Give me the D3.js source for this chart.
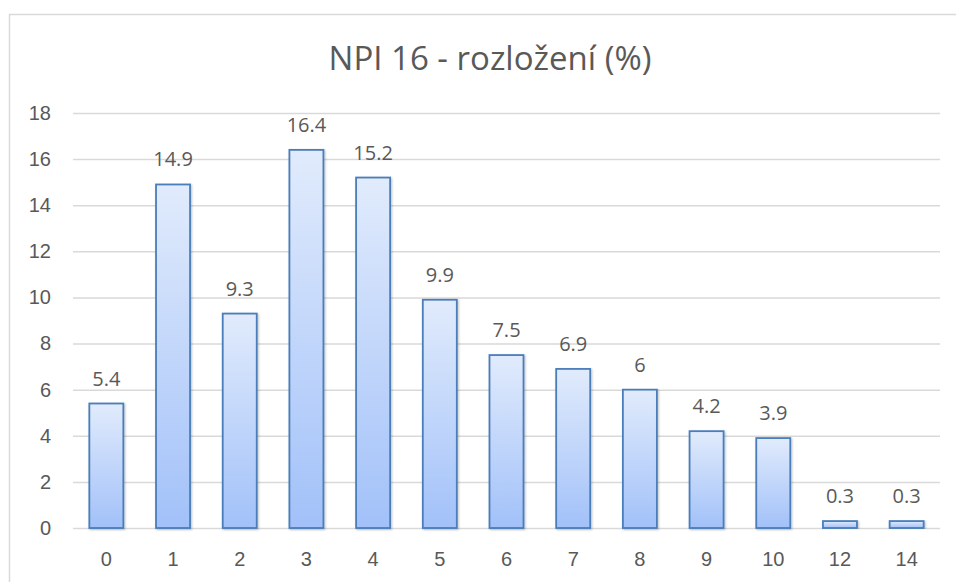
<!DOCTYPE html>
<html>
<head>
<meta charset="utf-8">
<script src="https://cdn.jsdelivr.net/npm/d3@7"></script>
<style>
  body { margin: 0; background: #fff; }
  svg { display: block; font-family: "Open Sans", sans-serif; }
</style>
</head>
<body>
<svg id="chart"></svg>
<script>
// Data
const categories = ["0", "1", "2", "3", "4", "5", "6", "7", "8", "9", "10", "12", "14"]
const values = [5.4, 14.9, 9.3, 16.4, 15.2, 9.9, 7.5, 6.9, 6, 4.2, 3.9, 0.3, 0.3]
const yTicks = [0, 2, 4, 6, 8, 10, 12, 14, 16, 18]
const title = "NPI 16 - rozložení (%)"

const width = 956, height = 582
const margin = {top: 113, right: 16, bottom: 54, left: 73}
const textColor = "#595959"
const labelSize = "20px"

const svg = d3.select("#chart")
  .attr("width", width)
  .attr("height", height)

// outer chart frame (runs off right & bottom edge)
svg.append("rect")
  .attr("x", 9.5).attr("y", 14.5)
  .attr("width", 960).attr("height", 600)
  .attr("fill", "#fff")
  .attr("stroke", "#d9d9d9")
  .attr("stroke-width", 1.5)

const defs = svg.append("defs")
const grad = defs.append("linearGradient")
  .attr("id", "barGrad")
  .attr("x1", 0).attr("y1", 0).attr("x2", 0).attr("y2", 1)
grad.append("stop").attr("offset", "0%").attr("stop-color", "#e1ebfc")
grad.append("stop").attr("offset", "100%").attr("stop-color", "#a2c1f9")

const shadow = defs.append("filter").attr("id", "shadow")
  .attr("x", "-20%").attr("y", "-5%").attr("width", "150%").attr("height", "115%")
shadow.append("feDropShadow")
  .attr("dx", 1).attr("dy", 1).attr("stdDeviation", 1.2)
  .attr("flood-color", "#000").attr("flood-opacity", 0.25)

const x = d3.scaleBand()
  .domain(categories)
  .range([margin.left, width - margin.right])
  .paddingInner(0.49)
  .paddingOuter(0.245)

const y = d3.scaleLinear()
  .domain([0, 18])
  .range([height - margin.bottom, margin.top])

// title
svg.append("text")
  .attr("x", 490)
  .attr("y", 70)
  .attr("text-anchor", "middle")
  .attr("fill", textColor)
  .style("font-size", "33px")
  .text(title)

// gridlines + y labels
const yAxis = g => g
  .attr("transform", `translate(${margin.left},0)`)
  .call(d3.axisLeft(y).tickValues(yTicks).tickSize(-(width - margin.right - margin.left)).tickPadding(22))
  .call(g => g.select(".domain").remove())
  .call(g => g.selectAll(".tick line").attr("stroke", "#d9d9d9").attr("stroke-width", 1.5))
  .call(g => g.selectAll(".tick text").attr("fill", textColor).style("font-size", labelSize).attr("font-family", null))

svg.append("g").call(yAxis)

// x labels
const xAxis = g => g
  .attr("transform", `translate(0,${y(0)})`)
  .call(d3.axisBottom(x).tickSize(0).tickPadding(24))
  .call(g => g.select(".domain").remove())
  .call(g => g.selectAll(".tick text").attr("fill", textColor).style("font-size", labelSize).attr("font-family", null))

svg.append("g").call(xAxis)

// bars
svg.append("g")
  .selectAll("rect")
  .data(values)
  .enter().append("rect")
  .attr("x", (d, i) => x(categories[i]))
  .attr("y", d => y(d))
  .attr("width", x.bandwidth())
  .attr("height", d => y(0) - y(d))
  .attr("fill", "url(#barGrad)")
  .attr("stroke", "#4a7ebb")
  .attr("stroke-width", 1.8)
  .attr("filter", "url(#shadow)")

// data labels
svg.append("g")
  .selectAll("text")
  .data(values)
  .enter().append("text")
  .attr("x", (d, i) => x(categories[i]) + x.bandwidth() / 2)
  .attr("y", d => y(d) - 18)
  .attr("text-anchor", "middle")
  .attr("fill", textColor)
  .style("font-size", labelSize)
  .text(d => d)
</script>
</body>
</html>
